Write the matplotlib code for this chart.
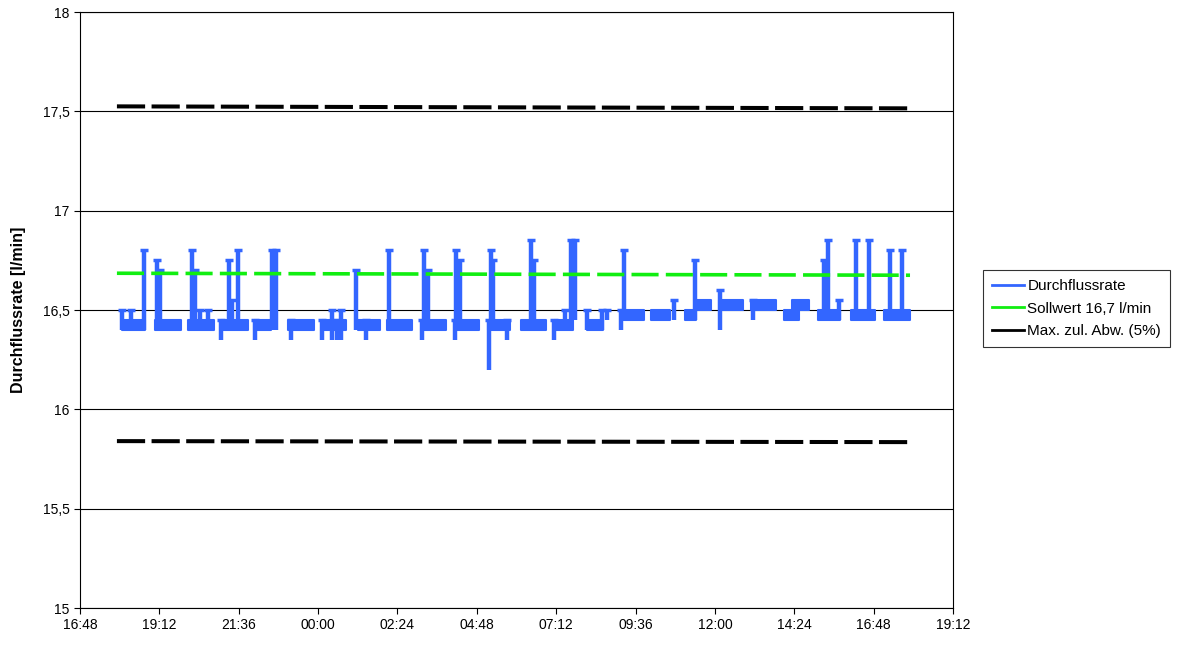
import numpy as np
import pandas as pd
import matplotlib
matplotlib.use("Agg")
import matplotlib.pyplot as plt
import matplotlib.dates as mdates
from matplotlib.lines import Line2D
from matplotlib.ticker import FixedLocator, FuncFormatter

plt.rcParams['font.family'] = ['Liberation Sans', 'DejaVu Sans']

# Messung ueber 24 h, Beginn am Abend von Tag 1
DAY1 = "2009-05-04"
DAY2 = "2009-05-05"


def ts(hhmm):
    day = DAY1 if hhmm >= "17:55" else DAY2
    return mdates.date2num(pd.Timestamp(day + " " + hhmm))


# Bereiche, in denen der Wert zwischen zwei Stufen springt
band_start = ["18:04", "19:04", "20:04", "21:04", "22:04", "23:05", "00:07", "01:12", "02:05",
              "03:09", "04:08", "05:08", "06:08", "07:08", "08:08", "09:10", "10:04", "11:06",
              "11:26", "12:07", "13:05", "14:05", "14:20", "15:07", "16:07", "17:07"]
band_end = ["18:46", "19:51", "20:51", "21:53", "22:35", "23:53", "00:51", "01:52", "02:50",
            "03:52", "04:52", "05:48", "06:53", "07:43", "08:37", "09:51", "10:38", "11:26",
            "11:53", "12:51", "13:51", "14:33", "14:51", "15:47", "16:50", "17:54"]
band_lo = [16.40, 16.40, 16.40, 16.40, 16.40, 16.40, 16.40, 16.40, 16.40,
           16.40, 16.40, 16.40, 16.40, 16.40, 16.40, 16.45, 16.45, 16.45,
           16.50, 16.50, 16.50, 16.45, 16.50, 16.45, 16.45, 16.45]
band_hi = [16.45, 16.45, 16.45, 16.45, 16.45, 16.45, 16.45, 16.45, 16.45,
           16.45, 16.45, 16.45, 16.45, 16.45, 16.45, 16.50, 16.50, 16.50,
           16.55, 16.55, 16.55, 16.50, 16.55, 16.50, 16.50, 16.50]

# Spitzen und Einbrueche
exc_time = ["18:04", "18:20", "18:45", "19:08", "19:13", "20:11", "20:17", "20:25", "20:40",
            "21:04", "21:19", "21:24", "21:35", "22:06", "22:36", "22:44", "23:10", "00:07",
            "00:25", "00:34", "00:42", "01:09", "01:27", "02:08", "03:09", "03:13", "03:20",
            "04:08", "04:11", "04:17", "05:10", "05:13", "05:18", "05:42", "06:26", "06:31",
            "07:08", "07:28", "07:38", "07:46", "08:08", "08:35", "08:45", "09:10", "09:15",
            "10:45", "11:23", "12:10", "13:10", "15:18", "15:25", "15:45", "16:16", "16:40",
            "17:18", "17:39"]
exc_lo = [16.40, 16.40, 16.40, 16.40, 16.40, 16.40, 16.40, 16.40, 16.40,
          16.35, 16.40, 16.40, 16.40, 16.35, 16.40, 16.40, 16.35, 16.35,
          16.35, 16.35, 16.35, 16.40, 16.35, 16.40, 16.35, 16.40, 16.40,
          16.35, 16.40, 16.40, 16.20, 16.40, 16.40, 16.35, 16.40, 16.40,
          16.35, 16.40, 16.45, 16.45, 16.40, 16.40, 16.45, 16.40, 16.45,
          16.45, 16.45, 16.40, 16.45, 16.45, 16.45, 16.45, 16.45, 16.45,
          16.45, 16.45]
exc_hi = [16.50, 16.50, 16.80, 16.75, 16.70, 16.80, 16.70, 16.50, 16.50,
          16.45, 16.75, 16.55, 16.80, 16.45, 16.80, 16.80, 16.45, 16.45,
          16.50, 16.45, 16.50, 16.70, 16.45, 16.80, 16.45, 16.80, 16.70,
          16.45, 16.80, 16.75, 16.45, 16.80, 16.75, 16.45, 16.85, 16.75,
          16.45, 16.50, 16.85, 16.85, 16.50, 16.50, 16.50, 16.50, 16.80,
          16.55, 16.75, 16.60, 16.55, 16.75, 16.85, 16.55, 16.85, 16.85,
          16.80, 16.80]

ref_time = ["17:55", "17:54"]
soll = [16.685, 16.675]
upper = [17.525, 17.515]
lower = [15.840, 15.835]

blue = '#3366ff'
green = '#11ee11'

fig = plt.figure(figsize=(11.83, 6.45), dpi=100)
ax = fig.add_axes([80 / 1183, 1 - 608 / 645, 873 / 1183, 596 / 645])

for s, e, lo, hi in zip(band_start, band_end, band_lo, band_hi):
    ax.fill_between([ts(s), ts(e)], [lo, lo], [hi, hi], color=blue, lw=1.5, zorder=2)

t_exc = [ts(t) for t in exc_time]
ax.vlines(t_exc, exc_lo, exc_hi, color=blue, lw=3.2, zorder=2)
ax.plot(t_exc, exc_hi, ls='none', marker='_', ms=6, mew=2.5, color=blue, zorder=2)

t_ref = [ts(t) for t in ref_time]
ax.plot(t_ref, soll, color=green, lw=2.6, ls=(0, (7.5, 2.0)), zorder=3)
ax.plot(t_ref, upper, color='black', lw=2.9, ls=(0, (7.0, 1.6)), zorder=3)
ax.plot(t_ref, lower, color='black', lw=2.9, ls=(0, (7.0, 1.6)), zorder=3)

x0 = mdates.date2num(pd.Timestamp(DAY1 + " 16:48"))
xticks = [x0 + 0.1 * k for k in range(12)]
ax.set_xlim(xticks[0], xticks[-1])
ax.set_ylim(15, 18)
ax.xaxis.set_major_locator(FixedLocator(xticks))
ax.xaxis.set_major_formatter(mdates.DateFormatter('%H:%M'))
ax.set_yticks([15, 15.5, 16, 16.5, 17, 17.5, 18])
ax.yaxis.set_major_formatter(FuncFormatter(lambda v, p: ('%g' % v).replace('.', ',')))
ax.tick_params(labelsize=10, length=4, width=0.8, color='black')
ax.grid(axis='y', color='black', lw=0.8)
ax.set_axisbelow(True)
for sp in ax.spines.values():
    sp.set_color('black')
    sp.set_linewidth(0.8)

ax.set_ylabel('Durchflussrate [l/min]', fontsize=11.5, fontweight='bold')
ax.yaxis.set_label_coords(-0.062, 0.5)

handles = [Line2D([], [], color=blue, lw=2),
           Line2D([], [], color=green, lw=2),
           Line2D([], [], color='black', lw=2)]
labels = ['Durchflussrate', 'Sollwert 16,7 l/min', 'Max. zul. Abw. (5%)']
leg = fig.legend(handles, labels, loc='upper left', bbox_to_anchor=(983 / 1183, 1 - 270 / 645),
                 bbox_transform=fig.transFigure, fontsize=11, frameon=True, fancybox=False,
                 handlelength=2.1, handletextpad=0.2, borderpad=0.6, labelspacing=0.55,
                 borderaxespad=0)
leg.get_frame().set_edgecolor('black')
leg.get_frame().set_linewidth(0.8)

fig.savefig('out.png', dpi=100)
